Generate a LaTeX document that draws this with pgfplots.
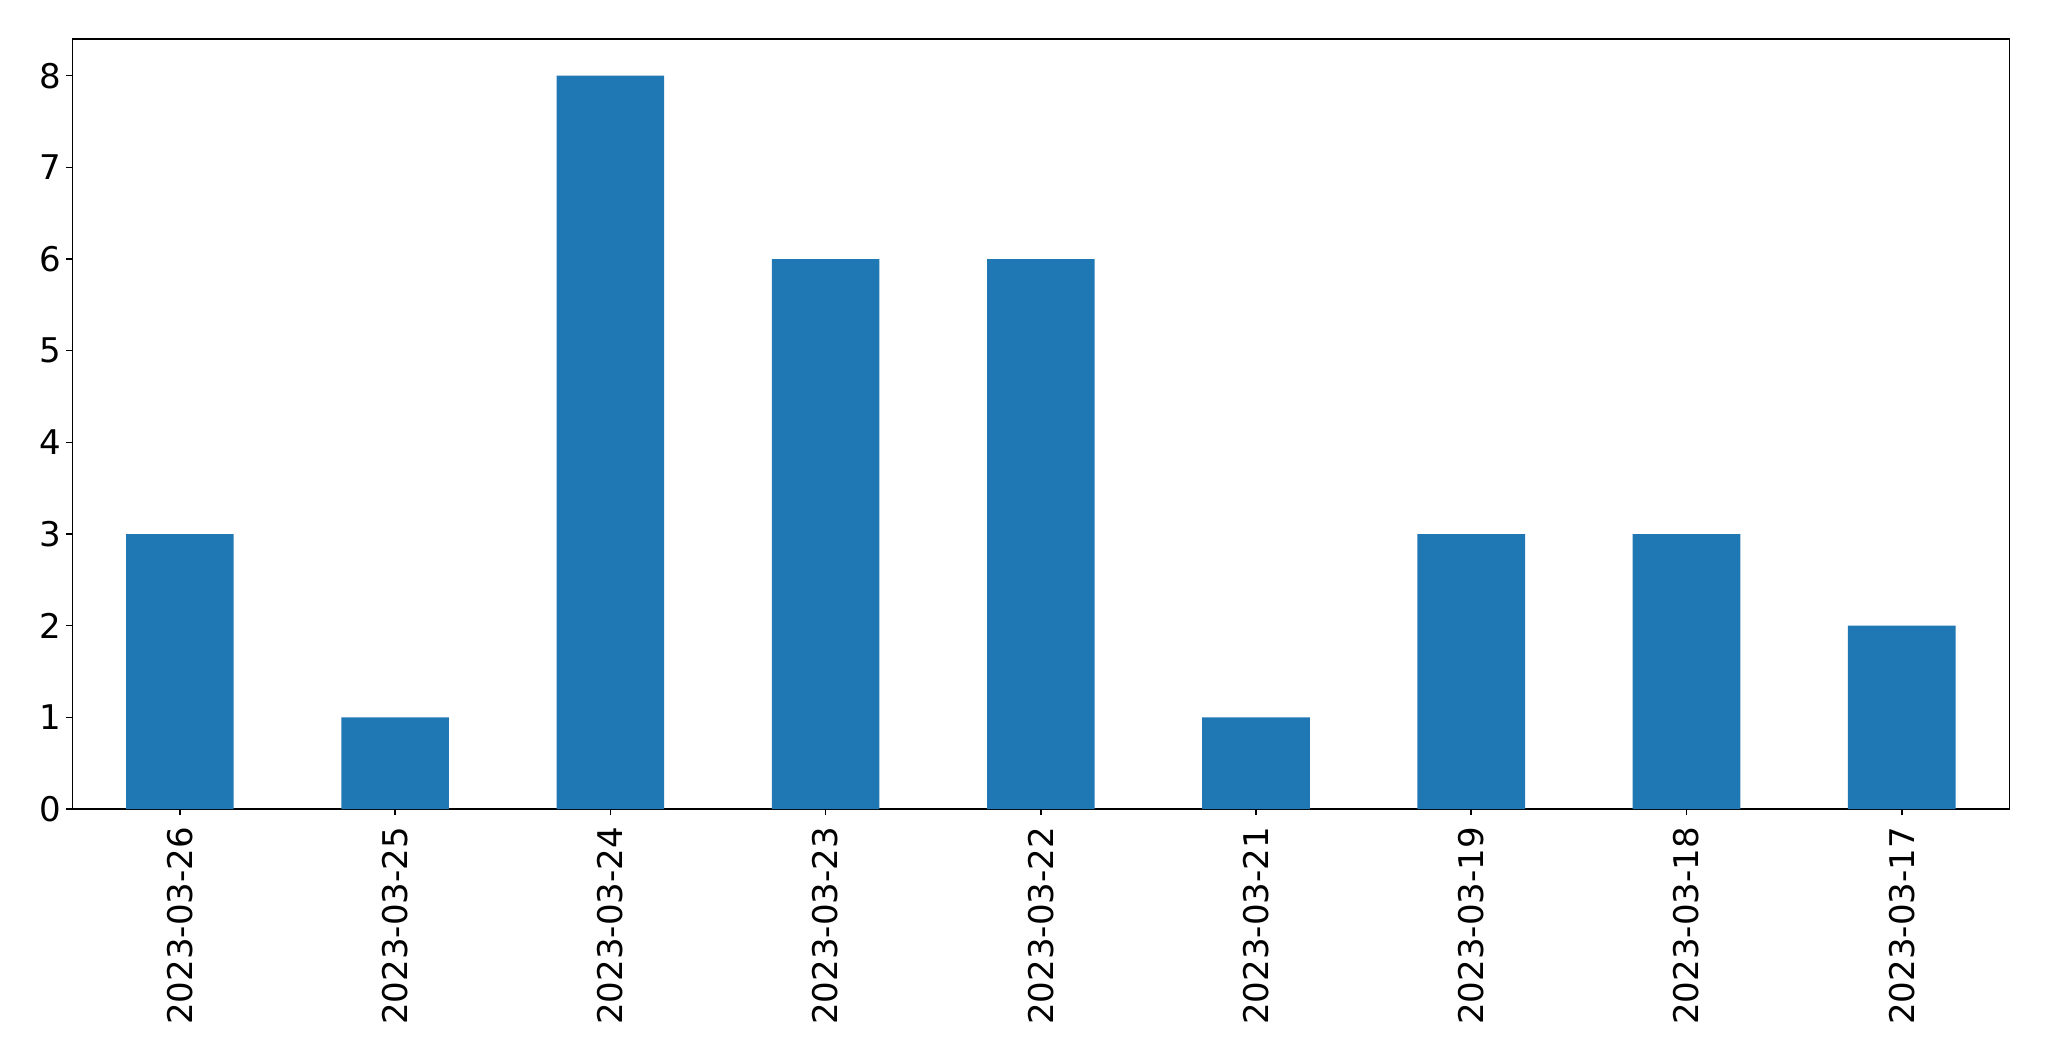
\documentclass[border=0pt]{standalone}
\usepackage{pgfplots}
\pgfplotsset{compat=1.18}
\usepackage{fontspec}
\setmainfont{DejaVu Sans}
\definecolor{mplblue}{HTML}{1F77B4}
\begin{document}
\begin{tikzpicture}
% page = reference size, 1px = 0.5pt
\useasboundingbox (-36.15pt,-126pt) rectangle (988.35pt,404.5pt);
\begin{axis}[
    at={(0,0)}, anchor=south west,
    scale only axis,
    width=968.5pt, height=385pt,
    xmin=-0.5, xmax=8.5, ymin=0, ymax=8.4,
    xtick=data,
    xticklabels={2023-03-26,2023-03-25,2023-03-24,2023-03-23,2023-03-22,2023-03-21,2023-03-19,2023-03-18,2023-03-17},
    ytick={0,1,...,8},
    tick align=outside,
    major tick length=3pt,
    xtick pos=bottom, ytick pos=left,
    axis line style={line width=0.8pt},
    every tick/.style={black, line width=0.8pt},
    ticklabel style={font=\fontsize{17}{20}\selectfont},
    /pgf/number format/assume math mode=true,
    xticklabel style={rotate=90, anchor=east, xshift=-2.5pt},
    yticklabel style={xshift=1pt},
    ybar, bar width=0.5,
]
\addplot[fill=mplblue, draw=none] coordinates {
    (0,3) (1,1) (2,8) (3,6) (4,6) (5,1) (6,3) (7,3) (8,2)};
\end{axis}
\end{tikzpicture}
\end{document}
